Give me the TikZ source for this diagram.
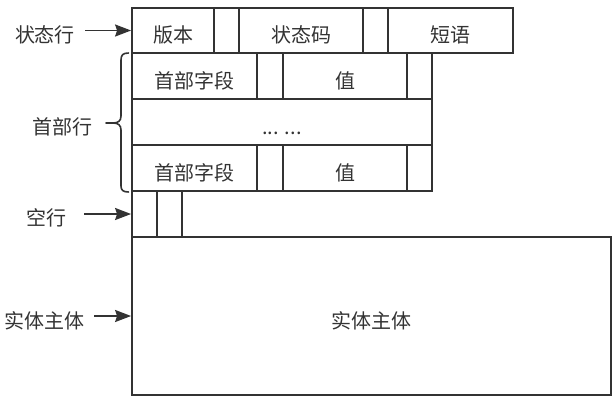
\documentclass[tikz,border=0pt]{standalone}
\usepackage{fontspec}
\setmainfont{Noto Sans CJK SC}
\usetikzlibrary{arrows.meta}
\definecolor{ink}{HTML}{333333}
\begin{document}
\begin{tikzpicture}[x=1pt,y=-1pt,
  every node/.style={font=\fontsize{20}{20}\selectfont, text=ink},
  cell/.style={draw=ink, line width=1.8pt, inner sep=0pt, text height=24.5pt, text depth=0pt},
  lbl/.style={inner sep=0pt, text height=24.5pt, text depth=0pt},
  arr/.style={draw=ink, line width=1.8pt, -{Stealth[length=16pt,width=12pt,inset=2pt]}},
  brc/.style={draw=ink, line width=1.6pt, line cap=round, line join=round}]
\useasboundingbox (0,0) rectangle (616,400);
% status line
\node[cell, minimum width=82pt, minimum height=45pt] (ver) at (173,30.5) {版本};
\node[cell, minimum width=25pt, minimum height=45pt] (sa) at (226.5,30.5) {};
\node[cell, minimum width=124pt, minimum height=45pt] (code) at (301,30.5) {状态码};
\node[cell, minimum width=25pt, minimum height=45pt] (sb) at (375.5,30.5) {};
\node[cell, minimum width=125pt, minimum height=45pt] (phr) at (450.5,30.5) {短语};
% header row 1
\node[cell, minimum width=125pt, minimum height=46pt] (f1) at (194.5,76) {首部字段};
\node[cell, minimum width=26pt, minimum height=46pt] (a1) at (270,76) {};
\node[cell, minimum width=124pt, minimum height=46pt] (v1) at (345,76) {值};
\node[cell, minimum width=25pt, minimum height=46pt] (b1) at (419.5,76) {};
% middle
\node[cell, minimum width=300pt, minimum height=46pt] (mid) at (282,122) {... ...};
% header row 3
\node[cell, minimum width=125pt, minimum height=46pt] (f3) at (194.5,168) {首部字段};
\node[cell, minimum width=26pt, minimum height=46pt] (a3) at (270,168) {};
\node[cell, minimum width=124pt, minimum height=46pt] (v3) at (345,168) {值};
\node[cell, minimum width=25pt, minimum height=46pt] (b3) at (419.5,168) {};
% empty line
\node[cell, minimum width=25pt, minimum height=46pt] (e1) at (144.5,214) {};
\node[cell, minimum width=25pt, minimum height=46pt] (e2) at (169.5,214) {};
% body
\node[cell, minimum width=479pt, minimum height=158pt] (body) at (371.5,316) {实体主体};
% labels
\node[lbl] (l1) at (45,30.5) {状态行};
\node[lbl] (l2) at (62,122.5) {首部行};
\node[lbl] (l3) at (46,213) {空行};
\node[lbl] (l4) at (45,316) {实体主体};
% arrows
\coordinate (s1) at (85,30.5);
\coordinate (s3) at (84,214);
\coordinate (s4) at (94,316);
\draw[arr] (s1) -- (ver.west);
\draw[arr] (s3) -- (e1.west);
\draw[arr] (s4) -- (body.west);
% brace
\draw[brc] (128.5,53) .. controls (123,53) and (121,55) .. (121,60) -- (121,116)
  .. controls (121,121) and (118,123) .. (113,123) -- (106,123);
\draw[brc] (113,123) .. controls (118,123) and (121,125) .. (121,130) -- (121,186)
  .. controls (121,190) and (123,192) .. (128.5,192);
\end{tikzpicture}
\end{document}
